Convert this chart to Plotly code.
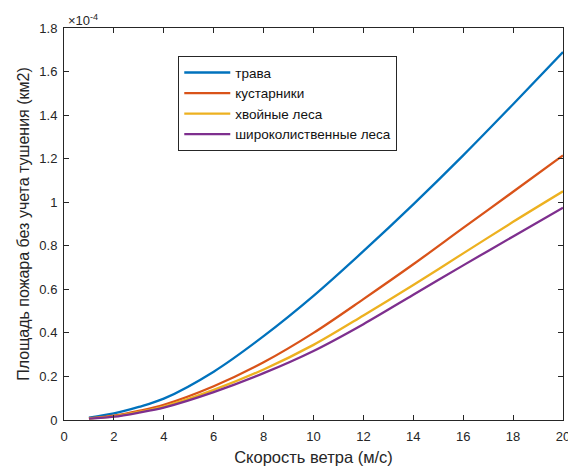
import plotly.graph_objects as go

# wind speed (m/s)
wind = [1, 2, 3, 4, 6, 8, 10, 12, 14, 16, 18, 20]
# fire area without suppression, units of 1e-4 km2
grass = [0.011, 0.030, 0.060, 0.098, 0.222, 0.385, 0.570, 0.775, 0.990, 1.215, 1.450, 1.690]
shrubs = [0.008, 0.020, 0.042, 0.070, 0.155, 0.265, 0.400, 0.555, 0.715, 0.882, 1.048, 1.215]
conifer = [0.007, 0.017, 0.037, 0.062, 0.138, 0.232, 0.345, 0.480, 0.620, 0.765, 0.910, 1.050]
broadleaf = [0.006, 0.015, 0.034, 0.057, 0.128, 0.215, 0.317, 0.440, 0.575, 0.710, 0.843, 0.975]

names = ["трава", "кустарники", "хвойные леса", "широколиственные леса"]
colors = ["#0072BD", "#D95319", "#EDB120", "#7E2F8E"]
series = [grass, shrubs, conifer, broadleaf]

x_ticks = list(range(0, 21, 2))
y_ticks = [0, 0.2, 0.4, 0.6, 0.8, 1.0, 1.2, 1.4, 1.6, 1.8]
y_ticktext = ["0", "0.2", "0.4", "0.6", "0.8", "1", "1.2", "1.4", "1.6", "1.8"]

fig = go.Figure()
for name, col, ys in zip(names, colors, series):
    fig.add_trace(go.Scatter(x=wind, y=ys, mode="lines", name=name,
                             line=dict(color=col, width=2.3, shape="spline", smoothing=0.9)))

axis_col = "#262626"
fig.update_layout(
    width=568, height=472,
    margin=dict(l=64, r=5, t=28, b=52),
    plot_bgcolor="white", paper_bgcolor="white",
    font=dict(family="Liberation Sans, Arial, sans-serif", size=13, color=axis_col),
    showlegend=True,
    legend=dict(x=0.229, y=0.928, xanchor="left", yanchor="top",
                bordercolor=axis_col, borderwidth=1, bgcolor="white",
                font=dict(size=13.5, color="#111111"), tracegroupgap=0,
                itemwidth=46),
    xaxis=dict(range=[0, 20], tickvals=x_ticks, ticks="inside", ticklen=5,
               showline=True, linecolor=axis_col, linewidth=1, mirror="ticks",
               showgrid=False, zeroline=False, tickcolor=axis_col,
               ticklabeloverflow="allow", ticklabelstandoff=4, automargin=False,
               title=dict(text="Скорость ветра (м/с)", font=dict(size=16.5), standoff=8)),
    yaxis=dict(range=[0, 1.8], tickvals=y_ticks, ticktext=y_ticktext, ticks="inside", ticklen=5,
               showline=True, linecolor=axis_col, linewidth=1, mirror="ticks",
               showgrid=False, zeroline=False, tickcolor=axis_col,
               ticklabelstandoff=3, automargin=False,
               title=dict(text="Площадь пожара без учета тушения (км2)", font=dict(size=16), standoff=5)),
)
fig.add_annotation(xref="paper", yref="paper", x=0.0, y=1.0, xanchor="left", yanchor="bottom",
                   text="×10<sup>-4</sup>", showarrow=False, font=dict(size=13, color=axis_col),
                   xshift=2, yshift=-2)

fig.write_html("out.html")
